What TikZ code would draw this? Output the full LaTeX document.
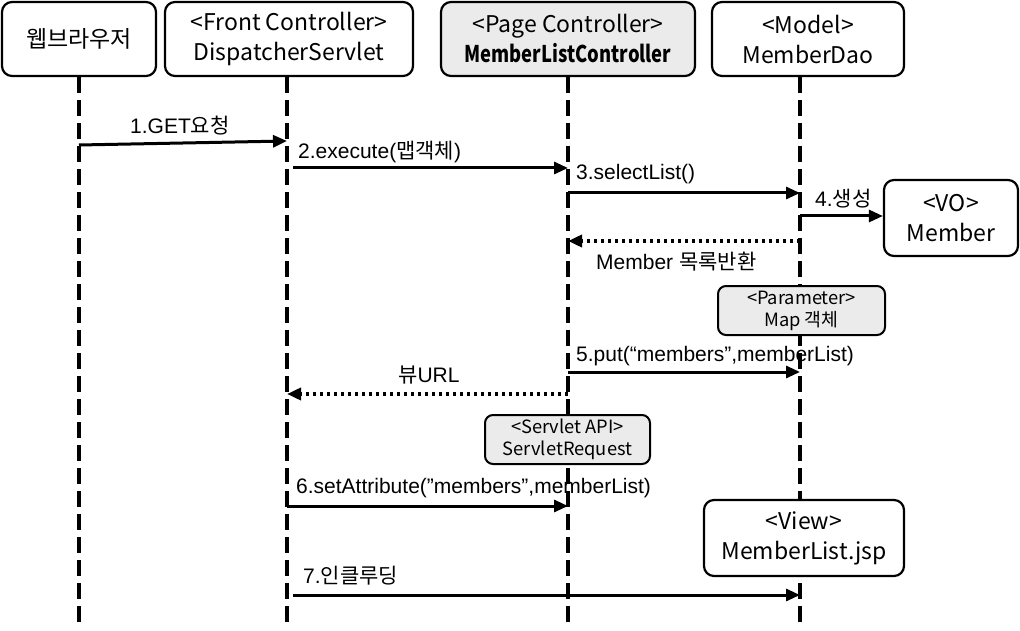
\documentclass[tikz,border=0pt]{standalone}
\usepackage{fontspec}
\setmainfont{Liberation Sans}
\newfontfamily\kr{Noto Sans CJK KR}
\usetikzlibrary{positioning}
\usetikzlibrary{arrows.meta}
\colorlet{boxC}{black!8}
\tikzstyle{obj}=[draw, line width=2.2pt, fill=white, rounded corners=10pt, shape=rectangle, minimum height=74pt, align=center, font=\kr\fontsize{23}{30}\selectfont, inner sep=0pt]
\tikzstyle{objg}=[obj, fill=boxC]
\tikzstyle{note}=[draw, line width=2pt, fill=boxC, rounded corners=8pt, shape=rectangle, minimum height=49pt, align=center, font=\kr\fontsize{18.3}{22}\selectfont, inner sep=0pt]
\tikzstyle{life}=[line width=3.5pt, dash pattern=on 16pt off 7pt]
\tikzstyle{msg}=[line width=3pt, -{Triangle[length=14pt,width=12pt]}]
\tikzstyle{ret}=[line width=3.5pt, dash pattern=on 3.5pt off 3.5pt, -{Triangle[length=14pt,width=12pt]}]
\tikzstyle{lbl}=[font=\fontsize{21}{24}\selectfont, inner sep=0pt, anchor=west]
\def\obj{\node[style=obj]}
\def\objg{\node[style=objg]}
\def\note{\node[style=note]}
\def\lbl{\node[style=lbl]}
\def\msg{\draw[style=msg]}
\def\ret{\draw[style=ret]}

\begin{document}
\begin{tikzpicture}[x=1pt, y=-1pt]
      \useasboundingbox (0,0) rectangle (1020,631);
      % objects
      \obj  (browser) at (79,39)  [minimum width=154pt] {웹브라우저};
      \obj  (front)   at (289,39) [minimum width=248pt] {<Front Controller>\\DispatcherServlet};
      \objg (page)    at (568,39) [minimum width=254pt] {<Page Controller>\\\scalebox{0.8}[1]{\textbf{MemberListController}}};
      \obj  (model)   at (808,39) [minimum width=192pt] {<Model>\\MemberDao};
      \coordinate (frontTop) at ([xshift=-2pt]front.south);
      \coordinate (modelTop) at ([xshift=-8pt]model.south);

      % lifelines
      \draw[life] (browser.south)  -- (browser.south |- 0,625);
      \draw[life] (frontTop)       -- (frontTop |- 0,625);
      \draw[life] (page.south)     -- (page.south |- 0,625);
      \draw[life] (modelTop)       -- (modelTop |- 0,625);

      % other objects
      \obj  (vo)     at (951,218)     [minimum width=134pt, minimum height=76pt] {<VO>\\Member};
      \note (param)  at (801.5,310.5) [minimum width=167pt] {<Parameter>\\Map 객체};
      \note (req)    at (567.5,439.5) [minimum width=165pt] {<Servlet API>\\ServletRequest};
      \obj  (view)   at (804,538)     [minimum width=200pt, minimum height=76pt] {<View>\\MemberList.jsp};

      % messages
      \msg (browser.south |- 0,145) -- (frontTop |- 0,141);
      \lbl (m1) at (130,126) {1.GET{\kr 요청}};
      \msg ([xshift=6pt]frontTop |- 0,168) -- (page.south |- 0,168);
      \lbl (m2) at (298,152) {2.execute({\kr 맵객체})};
      \msg (page.south |- 0,193)    -- (modelTop |- 0,193);
      \lbl (m3) at (576,174) {3.selectList()};
      \msg (modelTop |- 0,216)      -- (vo.west |- 0,216);
      \lbl (m4) at (815,199) {4.{\kr 생성}};
      \ret (modelTop |- 0,241)      -- (page.south |- 0,241);
      \lbl (m5) at (596,262) {Member {\kr 목록반환}};
      \msg (page.south |- 0,372)    -- (modelTop |- 0,372);
      \lbl (m6) at (576,356) {5.put(“members”,memberList)};
      \ret (page.south |- 0,394)    -- (frontTop |- 0,394);
      \lbl (m7) at (398,375) {{\kr 뷰}URL};
      \msg (frontTop |- 0,506)      -- (page.south |- 0,506);
      \lbl (m8) at (296,488) {6.setAttribute(”members”,memberList)};
      \msg ([xshift=6pt]frontTop |- 0,595) -- (modelTop |- 0,595);
      \lbl (m9) at (303,576) {7.{\kr 인클루딩}};
\end{tikzpicture}
\end{document}
